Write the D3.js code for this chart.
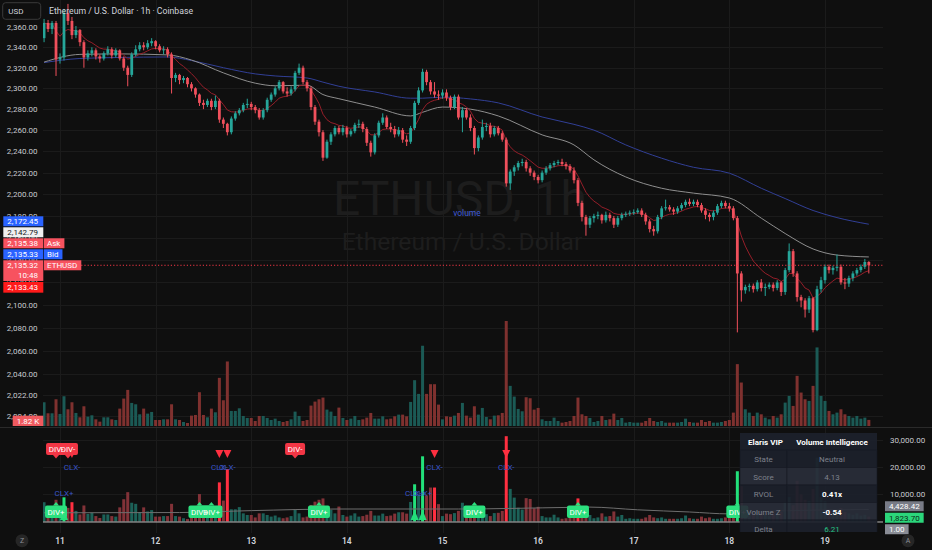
<!DOCTYPE html>
<html><head><meta charset="utf-8">
<script src="https://cdn.jsdelivr.net/npm/d3@7"></script>
<style>html,body{margin:0;padding:0;background:#0f0f0f;overflow:hidden}svg{display:block;font-family:Roboto,"Noto Sans",sans-serif}</style>
</head><body><svg id="c" width="932" height="550"></svg>
<script>
// ---------- DATA ----------
const startHour = -4;            // first candle: Oct 10 20:00 (hours from Oct 11 00:00)
const firstOpen = 2349;
const closes = [
2364,2358,2364,2328,2330,2374,2366,2352,2357,2345,
2330,2334,2337,2331,2329,2334,2338,2332,2337,2329,
2320,2313,2333,2338,2342,2340,2344,2346,2341,2337,
2338,2333,2310,2313,2308,2310,2304,2300,2294,2286,
2284,2288,2282,2288,2270,2266,2258,2271,2276,2279,
2284,2285,2282,2279,2272,2279,2289,2294,2300,2306,
2297,2295,2299,2315,2320,2306,2300,2282,2268,2258,
2234,2249,2256,2262,2258,2262,2256,2259,2265,2266,
2261,2248,2239,2255,2267,2272,2263,2261,2256,2260,
2251,2249,2262,2286,2298,2316,2306,2297,2294,2293,
2296,2291,2282,2292,2272,2279,2272,2262,2243,2253,
2263,2264,2256,2262,2257,2251,2210,2221,2225,2229,
2230,2224,2220,2216,2213,2220,2224,2227,2229,2230,
2228,2226,2222,2213,2192,2179,2172,2178,2180,2181,
2176,2181,2178,2172,2178,2181,2182,2183,2183.5,2185,
2181,2175,2168,2166,2179,2187,2188,2186,2184,2187,
2190,2193,2191,2193,2190,2185,2181,2179,2183,2189,
2192,2189,2187,2178,2128,2113,2116,2117,2114,2120,
2115,2116,2118,2115,2120,2111.5,2131,2148,2128,2107,
2104,2096,2106,2078,2114,2122,2134,2131,2133,2134,
2120,2119,2124,2128,2131,2134,2138.3,2135.32];
const highs = [
2368,2367,2366,2366,2334,2378,2383,2370,2361,2358,
2347,2337,2340,2339,2333,2336,2341,2340,2339,2338,
2331,2322,2335,2342,2345,2345,2347,2349,2347,2343,
2341,2340,2335,2315,2314,2312,2311,2306,2301,2295,
2289,2290,2290,2293,2290,2272,2267,2273,2278,2281,
2286,2290,2287,2284,2281,2281,2291,2296,2302,2308,
2307,2301,2302,2317,2324,2322,2308,2302,2284,2270,
2260,2251,2258,2264,2264,2265,2264,2261,2267,2270,
2268,2263,2250,2257,2269,2276,2274,2267,2264,2263,
2262,2255,2264,2288,2301,2319,2318,2308,2306,2298,
2299,2299,2293,2294,2294,2282,2281,2275,2264,2255,
2270,2267,2267,2264,2264,2259,2253,2223,2227,2231,
2233,2232,2226,2222,2218,2222,2226,2229,2231,2232,
2233,2230,2228,2225,2215,2194,2181,2180,2182,2184,
2182,2184,2183,2180,2180,2183,2184,2185,2186,2187,
2187,2183,2177,2171,2181,2189,2195,2190,2188,2189,
2192,2195,2196,2195,2195,2192,2187,2183,2185,2191,
2194,2194,2192,2189,2180,2130,2118,2119,2119,2122,
2123,2119,2120,2120,2122,2121,2133,2155,2150,2130,
2109,2106,2108,2107,2117,2125,2136,2136,2135,2145,
2136,2124,2126,2130,2133,2136,2141,2139];
const lows = [
2345,2355,2353,2312,2324,2327,2362,2348,2349,2341,
2320,2327,2331,2328,2325,2327,2332,2329,2330,2327,
2317,2302,2311,2331,2336,2337,2338,2341,2338,2335,
2333,2330,2295,2306,2304,2305,2301,2297,2291,2283,
2280,2282,2279,2280,2267,2262,2255,2256,2269,2274,
2277,2281,2279,2276,2270,2270,2277,2287,2292,2298,
2295,2292,2293,2297,2313,2304,2297,2279,2265,2254,
2231,2233,2246,2254,2256,2255,2253,2254,2257,2262,
2258,2245,2235,2237,2253,2265,2261,2258,2253,2254,
2248,2245,2247,2260,2284,2296,2303,2294,2291,2289,
2290,2288,2279,2280,2270,2258,2270,2259,2237,2240,
2251,2259,2253,2254,2255,2249,2207,2204,2217,2222,
2226,2221,2217,2213,2210,2211,2218,2222,2225,2227,
2226,2223,2220,2210,2189,2175,2162,2169,2174,2177,
2173,2174,2175,2169,2170,2176,2179,2180,2181,2182,
2179,2172,2165,2162,2164,2177,2185,2184,2181,2182,
2185,2188,2189,2189,2188,2183,2177,2175,2176,2181,
2187,2187,2184,2176,2076,2103,2110,2112,2111,2112,
2112,2108,2114,2112,2113,2108,2109,2129,2125,2103,
2098,2089,2093,2076,2077,2111,2119,2128,2127,2130,
2118,2114,2116,2121,2126,2129,2132,2128];
const volumes = [
7100,3800,3800,8000,3600,8900,5000,7100,3900,2600,
5900,2800,3200,2000,1300,2600,2600,2000,1800,5200,
8200,10800,6900,6500,3500,5200,3700,4200,1800,1800,
2000,2000,6500,2000,1800,1200,900,3100,3300,10100,
3300,2600,5200,4100,14400,7700,19300,4500,4500,5300,
3000,2400,2400,1500,3000,3000,2400,1800,2200,1500,
1200,1500,2000,4300,3000,1500,1800,6100,7300,8000,
8500,4900,4300,3000,5500,2400,1800,2200,3000,1800,
2000,2500,3900,2200,2200,2900,2000,2200,2900,3400,
3400,2900,7200,13700,9600,24000,9600,12500,12500,6400,
2000,2900,2700,3100,3900,6900,3100,2500,5900,3400,
5400,2700,2000,3100,3200,3900,31400,12000,8800,5100,
4400,8600,8300,4900,5400,2000,1500,1500,2500,1500,
1000,1200,1500,3000,8500,3500,3000,2400,1200,1500,
3000,1800,2000,3700,1800,2400,1000,1200,1000,1000,
1000,1500,2400,1500,1200,1500,1000,1000,1000,1000,
1200,2200,1200,1000,1000,1800,1200,1500,1000,1000,
1200,1500,1800,4000,18500,13000,5000,4000,3000,4000,
3500,2500,2000,3000,2500,3500,7000,9000,6000,15000,
10000,8000,7500,12000,23500,9000,7500,4500,3500,4000,
5000,3500,3000,2500,3000,2200,2500,1820];

// moving averages (hour, value)
const maHours = [-4,5,15,27,33,41,49,54,62,66,70,79,88,91,96,103,110,121,129,134,142,151,159,168,176,182,189,195,203];
const grayMA  = [2325.5,2333,2333.5,2332.5,2327.5,2315,2305,2302.5,2303,2294,2290,2282,2273.5,2277,2282,2280,2273.5,2255.5,2246,2232,2216,2205.5,2201,2196.5,2178,2164,2150,2144.5,2142.8];
const blueMA  = [2325,2329,2330,2330.5,2327,2320,2314,2312,2310,2306,2302,2296.5,2290.5,2290.5,2291.5,2289.8,2286,2272.5,2265.5,2260,2246,2233.5,2225,2219.5,2205.5,2196,2185,2178.5,2172.45];
const emaPeriod = 9;

// volume average in lower pane (hour, value)
const avgHours = [-4,30,48,70,100,128,133,145,158,168,175,203];
const avgVol   = [3200,3300,4000,4600,4600,5200,5300,4300,3500,2800,3600,4428.42];

// ticks
const priceTicks = [2360,2340,2320,2300,2280,2260,2240,2220,2200,2180,2160,2140,2120,2100,2080,2060,2040,2022,2004];
const volTicks = [10000,20000,30000];

// side labels (left price scale)
const sideValues = [2172.45,2142.79,2135.38,2135.33,2135.32,2133.43];
const sideTags   = ["","","Ask","Bid","ETHUSD",""];
const sideColors = ["#2962ff","#f0f0f0","#f7525f","#2962ff","#f7525f","#ff1a1a"];
const countdown = "10:48";
const volLabel = "1.82 K";

// lower pane markers
const divBear = [-1,2,59];
const divBull = [-1,35,38,65,104,130,170];
const clxBear = [3,40,42,94,112];
const clxBull = [1,89,91];
const brightUp = [1,89,91,170];
const brightDn = [3,40,42,94,112,130];
const lowerLabels = [4428.42,1823.70,1.00];
const lowerLabelColors = ["#787b86","#2bd67b","#8a8d96"];
const lowerLabelText = ["#ffffff","#0b2a16","#ffffff"];

// table
const tableHead = ["Elaris VIP","Volume Intelligence"];
const tableLabels = ["State","Score","RVOL","Volume Z","Delta"];
const tableValues = ["Neutral","4.13","0.41x","-0.54","6.21"];

// ---------- DRAW ----------
const W=932,H=550, PL=43, PR=883, MB=427, LT=429, LB=533;
const svg = d3.select('#c');
svg.append('rect').attr('width',W).attr('height',H).attr('fill','#0f0f0f');
const defs = svg.append('defs');
defs.append('clipPath').attr('id','cm').append('rect').attr('x',PL).attr('y',0).attr('width',PR-PL).attr('height',MB);
defs.append('clipPath').attr('id','cl').append('rect').attr('x',PL).attr('y',LT).attr('width',PR-PL).attr('height',LB-LT);
defs.append('clipPath').attr('id','ct').append('rect').attr('x',0).attr('y',LT).attr('width',W).attr('height',532-LT);

const day0 = Date.UTC(2025,9,11);
const tOf = h => new Date(day0 + h*3600000);
const x = d3.scaleUtc().domain([tOf(0), tOf(192)]).range([60, 825]);
const y = d3.scaleLog().domain([2100,2360]).range([305,27]);
const yv = d3.scaleLinear().domain([0, d3.max(volumes)]).range([426, 321]);
const yl = d3.scaleLinear().domain([0, 30000]).range([521.5, 440]);
const fmt = d3.format(",.2f");

const data = closes.map((c,i)=>{
  const o = i?closes[i-1]:firstOpen;
  return {hr:startHour+i, o, c, hi:Math.max(highs[i],c,o), lo:Math.min(lows[i],c,o), v:volumes[i]};
});
data.forEach(d=>{d.x = x(tOf(d.hr)); d.up = d.c>=d.o;});

// grid
const grid = svg.append('g').attr('stroke','#1b1b1b').attr('stroke-width',1);
grid.selectAll('line.h').data(priceTicks).join('line')
  .attr('x1',PL).attr('x2',PR).attr('y1',d=>Math.round(y(d))+.5).attr('y2',d=>Math.round(y(d))+.5);
const days = x.ticks(d3.utcDay.every(1));
grid.selectAll('line.v').data(days).join('line')
  .attr('x1',d=>Math.round(x(d))+.5).attr('x2',d=>Math.round(x(d))+.5).attr('y1',0).attr('y2',LB);
grid.selectAll('line.l').data(volTicks).join('line')
  .attr('x1',PL).attr('x2',PR).attr('y1',d=>Math.round(yl(d))+.5).attr('y2',d=>Math.round(yl(d))+.5);

// watermark
const wm = svg.append('g').attr('fill','#1d1d1d').attr('text-anchor','middle');
wm.append('text').attr('x',460).attr('y',215).attr('font-size',48).text('ETHUSD, 1h');
wm.append('text').attr('x',462).attr('y',250).attr('font-size',24.6).text('Ethereum / U.S. Dollar');
svg.append('text').attr('x',467).attr('y',216).attr('font-size',8.5).attr('text-anchor','middle').attr('fill','#3f5bd4').text('volume');

// main pane
const main = svg.append('g').attr('clip-path','url(#cm)');
main.append('g').selectAll('rect').data(data).join('rect')
  .attr('x',d=>d.x-1.5).attr('width',3).attr('y',d=>yv(d.v)).attr('height',d=>426-yv(d.v))
  .attr('fill',d=>d.up?'#1b5a55':'#7f312f');

const ml = d3.line().x(d=>x(tOf(d[0]))).y(d=>y(d[1])).curve(d3.curveMonotoneX);
main.append('path').attr('d',ml(maHours.map((h,i)=>[h,blueMA[i]]))).attr('fill','none').attr('stroke','#313f96').attr('stroke-width',1);
main.append('path').attr('d',ml(maHours.map((h,i)=>[h,grayMA[i]]))).attr('fill','none').attr('stroke','#8e8e8e').attr('stroke-width',1);
const kE = 2/(emaPeriod+1); let eAcc = closes[0];
const ema = closes.map(c=> (eAcc = eAcc + kE*(c-eAcc)));
main.append('path').attr('d',d3.line().x((d,i)=>data[i].x).y(d=>y(d))(ema)).attr('fill','none').attr('stroke','#951e29').attr('stroke-width',1);

const cg = main.append('g');
cg.selectAll('rect.w').data(data).join('rect')
  .attr('x',d=>d.x-0.5).attr('width',1).attr('y',d=>y(d.hi)).attr('height',d=>Math.max(1,y(d.lo)-y(d.hi)))
  .attr('fill',d=>d.up?'#26a69a':'#f0505c');
cg.selectAll('rect.b').data(data).join('rect')
  .attr('x',d=>d.x-1.4).attr('width',2.8).attr('y',d=>y(Math.max(d.o,d.c))).attr('height',d=>Math.max(1,Math.abs(y(d.o)-y(d.c))))
  .attr('fill',d=>d.up?'#26a69a':'#f0505c');

// last price dotted line
const lastY = y(closes[closes.length-1]);
svg.append('line').attr('x1',78).attr('x2',PR).attr('y1',lastY).attr('y2',lastY)
  .attr('stroke','#f23645').attr('stroke-dasharray','1.2,2').attr('stroke-width',1);

// separator
svg.append('line').attr('x1',0).attr('x2',W).attr('y1',MB+.5).attr('y2',MB+.5).attr('stroke','#2a2a2a');

// left axis labels
svg.append('g').selectAll('text').data(priceTicks).join('text')
  .attr('x',37.5).attr('y',d=>y(d)+3).attr('text-anchor','end').attr('font-size',8).attr('fill','#c8cad0')
  .text(d=>fmt(d));

// side labels
const heights = [10,10,10,10,20.7,10.7];
const tops = []; tops[4] = lastY-5;
for(let i=3;i>=0;i--) tops[i] = tops[i+1]-heights[i]-1;
tops[5] = tops[4]+heights[4]+1;
const sg = svg.append('g').attr('font-size',8);
sideValues.forEach((v,i)=>{
  const g = sg.append('g');
  g.append('rect').attr('x',3.3).attr('y',tops[i]).attr('width',40).attr('height',heights[i]).attr('fill',sideColors[i]);
  const tc = i===1?'#131722':'#ffffff';
  g.append('text').attr('x',38).attr('y',tops[i]+7.8).attr('text-anchor','end').attr('fill',tc).text(fmt(v));
  if(i===4) g.append('text').attr('x',38).attr('y',tops[i]+18).attr('text-anchor','end').attr('fill',tc).text(countdown);
  if(sideTags[i]){
    const r = g.append('rect').attr('x',44).attr('y',tops[i]).attr('height',10).attr('fill',sideColors[i]);
    const t = g.append('text').attr('x',47).attr('y',tops[i]+7.8).attr('fill','#fff').text(sideTags[i]);
    r.attr('width', t.node().getComputedTextLength()+7);
  }
});
// volume label
svg.append('rect').attr('x',12.7).attr('y',415.7).attr('width',30.6).attr('height',10.3).attr('fill','#f05a5f');
svg.append('text').attr('x',28).attr('y',423.6).attr('text-anchor','middle').attr('font-size',8).attr('fill','#fff').text(volLabel);

// lower pane
const low = svg.append('g').attr('clip-path','url(#cl)');
const upSet = new Set(brightUp), dnSet = new Set(brightDn);
low.append('g').selectAll('rect').data(data).join('rect')
  .attr('x',d=>d.x-1.5).attr('width',3).attr('y',d=>yl(d.v)).attr('height',d=>yl(0)-yl(d.v))
  .attr('fill',d=> upSet.has(d.hr)?'#22e07a': dnSet.has(d.hr)?'#ff2f40' : (d.up?'#1c6158':'#823238'));
low.append('path').attr('d',d3.line().x(d=>x(tOf(d[0]))).y(d=>yl(d[1])).curve(d3.curveMonotoneX)(avgHours.map((h,i)=>[h,avgVol[i]])))
  .attr('fill','none').attr('stroke','#6e6e6e').attr('stroke-width',1);
low.append('line').attr('x1',PL).attr('x2',PR).attr('y1',yl(1)+.5).attr('y2',yl(1)+.5).attr('stroke','#bdbdbd').attr('stroke-width',1);

const cx = h => x(tOf(h));
// triangles
low.append('g').selectAll('path').data(clxBear).join('path')
  .attr('d',h=>`M${cx(h)-4},450 L${cx(h)+4},450 L${cx(h)},458 Z`).attr('fill','#ff2f40');
low.append('g').selectAll('path').data(clxBull).join('path')
  .attr('d',h=>`M${cx(h)-4},520 L${cx(h)+4},520 L${cx(h)},510 Z`).attr('fill','#22e07a');
low.append('g').attr('font-size',8).attr('fill','#3a55c8').attr('text-anchor','middle')
  .selectAll('text').data(clxBear).join('text').attr('x',cx).attr('y',470).text('CLX-');
low.append('g').attr('font-size',8).attr('fill','#3a55c8').attr('text-anchor','middle')
  .selectAll('text').data(clxBull).join('text').attr('x',cx).attr('y',496).text('CLX+');
// DIV labels: boxes first, then texts
const dbg = low.append('g');
const dtx = low.append('g').attr('font-size',8).attr('text-anchor','middle').attr('fill','#fff');
divBear.forEach(h=>{
  const c = cx(h);
  dbg.append('path').attr('d',`M${c-3},455 L${c+3},455 L${c},458.5 Z`).attr('fill','#f23645');
  dbg.append('rect').attr('x',c-10).attr('y',443).attr('width',20).attr('height',12).attr('rx',2).attr('fill','#f23645');
  dtx.append('text').attr('x',c).attr('y',452).text('DIV-');
});
divBull.forEach(h=>{
  const c = cx(h);
  dbg.append('path').attr('d',`M${c-3},505.5 L${c+3},505.5 L${c},502 Z`).attr('fill','#2ce07e');
  dbg.append('rect').attr('x',c-11).attr('y',505.5).attr('width',22).attr('height',12.5).attr('rx',2).attr('fill','#2ce07e');
  dtx.append('text').attr('x',c).attr('y',514.8).text('DIV+');
});

// table
const tb = svg.append('g').attr('clip-path','url(#ct)').attr('font-size',8);
const tX0=740, tX1=787, tX2=877, tY0=433, hH=17, rH=17.5;
tb.append('rect').attr('x',tX0).attr('y',tY0).attr('width',tX2-tX0).attr('height',hH).attr('fill','#1c202b').attr('fill-opacity',0.93);
tb.append('text').attr('x',(tX0+tX1)/2+2).attr('y',tY0+11.5).attr('text-anchor','middle').attr('font-weight','bold').attr('fill','#fff').text(tableHead[0]);
tb.append('text').attr('x',(tX1+tX2)/2).attr('y',tY0+11.5).attr('text-anchor','middle').attr('font-weight','bold').attr('fill','#fff').text(tableHead[1]);
tableLabels.forEach((lab,i)=>{
  const ry = tY0+hH+i*rH;
  const fill = i%2? '#292d39':'#1c202b';
  tb.append('rect').attr('x',tX0).attr('y',ry).attr('width',tX1-tX0).attr('height',rH).attr('fill',fill).attr('fill-opacity',0.93).attr('stroke','#161a24').attr('stroke-width',0.6);
  tb.append('rect').attr('x',tX1).attr('y',ry).attr('width',tX2-tX1).attr('height',rH).attr('fill',fill).attr('fill-opacity',0.93).attr('stroke','#161a24').attr('stroke-width',0.6);
  tb.append('text').attr('x',(tX0+tX1)/2).attr('y',ry+12).attr('text-anchor','middle').attr('fill','#7e818b').text(lab);
  const strong = (i===2||i===3);
  tb.append('text').attr('x',(tX1+tX2)/2).attr('y',ry+12).attr('text-anchor','middle')
    .attr('font-weight',strong?'bold':'normal')
    .attr('fill', i===4?'#26c281': strong?'#ffffff':'#7e818b').text(tableValues[i]);
});

// right axis (lower pane)
svg.append('g').selectAll('text').data(volTicks).join('text')
  .attr('x',890).attr('y',d=>yl(d)+3).attr('font-size',8).attr('fill','#c8cad0').text(d=>fmt(d));
const midC = yl(lowerLabels[1])+1.2;
const lcent = [midC-11.5, midC, midC+11.5];
lowerLabels.forEach((v,i)=>{
  const g = svg.append('g');
  const r = g.append('rect').attr('x',885).attr('y',lcent[i]-5).attr('height',10).attr('fill',lowerLabelColors[i]);
  const t = g.append('text').attr('x',889).attr('y',lcent[i]+3).attr('font-size',8).attr('fill',lowerLabelText[i]).text(fmt(v));
  r.attr('width', t.node().getComputedTextLength()+8);
});

// time axis
svg.append('g').selectAll('text').data(days).join('text')
  .attr('x',d=>x(d)).attr('y',543.5).attr('text-anchor','middle').attr('font-size',8.5).attr('font-weight',600).attr('fill','#d1d4dc')
  .text(d3.utcFormat('%-d'));
[[22,'Z'],[908,'A']].forEach(([px,t])=>{
  svg.append('circle').attr('cx',px).attr('cy',540.7).attr('r',6.5).attr('fill','#262626');
  svg.append('text').attr('x',px).attr('y',543.3).attr('text-anchor','middle').attr('font-size',7).attr('fill','#8c8f98').text(t);
});

// header
svg.append('rect').attr('x',2.7).attr('y',2.7).attr('width',38).attr('height',16.6).attr('rx',3).attr('fill','#0f0f0f').attr('stroke','#3a3a3a');
svg.append('text').attr('x',8.3).attr('y',14.3).attr('font-size',8).attr('fill','#d1d4dc').text('USD');
svg.append('text').attr('x',49).attr('y',14.3).attr('font-size',8.7).attr('fill','#d1d4dc').text('Ethereum / U.S. Dollar · 1h · Coinbase');
</script></body></html>
